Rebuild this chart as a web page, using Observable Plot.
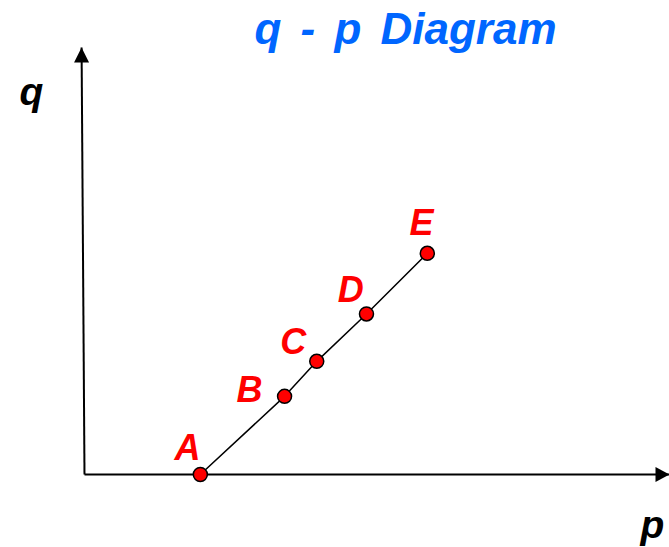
<!DOCTYPE html>
<html><head><meta charset="utf-8">
<script src="https://cdn.jsdelivr.net/npm/d3@7"></script>
<script src="https://cdn.jsdelivr.net/npm/@observablehq/plot@0.6"></script>
<style>
html,body{margin:0;padding:0;background:#fff;}
</style></head><body><div id="chart"></div>
<script>
// Data
const pointNames = ["A", "B", "C", "D", "E"];
const pValues = [1.98, 3.42, 3.97, 4.82, 5.86];
const qValues = [0, 1.83, 2.65, 3.76, 5.18];
const labelP = [1.76, 2.82, 3.57, 4.55, 5.76];
const labelQ = [0.33, 1.69, 2.83, 4.03, 5.60];
const pDomain = [0, 10];
const qDomain = [0, 10];
const yAxisTopP = -0.05;
const titleText = "q - p Diagram";
const xLabel = "p";
const yLabel = "q";

const FONT = "Liberation Sans, Arial, Helvetica, sans-serif";
const points = pointNames.map((n, i) => ({name: n, p: pValues[i], q: qValues[i], lp: labelP[i], lq: labelQ[i]}));
const axes = [
  {x1: pDomain[0], y1: qDomain[0], x2: pDomain[1], y2: qDomain[0]},
  {x1: pDomain[0], y1: qDomain[0], x2: yAxisTopP, y2: qDomain[1]}
];
const arrowUp = {draw(ctx) { ctx.moveTo(0, 0); ctx.lineTo(-7.5, 15); ctx.lineTo(7.5, 15); ctx.closePath(); }};
const arrowRight = {draw(ctx) { ctx.moveTo(0, 0); ctx.lineTo(-14, -7.5); ctx.lineTo(-14, 7.5); ctx.closePath(); }};

const chart = Plot.plot({
  width: 669,
  height: 547,
  marginLeft: 84,
  marginRight: 0,
  marginTop: 47,
  marginBottom: 73,
  x: {domain: pDomain, axis: null},
  y: {domain: qDomain, axis: null},
  style: {background: "#fff"},
  marks: [
    Plot.link(axes, {x1: "x1", y1: "y1", x2: "x2", y2: "y2", stroke: "#000", strokeWidth: 2}),
    Plot.dot([{x: yAxisTopP, y: qDomain[1]}], {x: "x", y: "y", symbol: arrowUp, r: 5, fill: "#000", stroke: "none"}),
    Plot.dot([{x: pDomain[1], y: qDomain[0]}], {x: "x", y: "y", symbol: arrowRight, r: 5, fill: "#000", stroke: "none"}),
    Plot.line(points, {x: "p", y: "q", stroke: "#000", strokeWidth: 1.5}),
    Plot.dot(points, {x: "p", y: "q", r: 7, fill: "#ff0000", stroke: "#000", strokeWidth: 1.5}),
    Plot.text(points, {x: "lp", y: "lq", text: "name", textAnchor: "middle", lineAnchor: "bottom",
      fill: "#ff0000", fontSize: 36, fontWeight: "bold", fontStyle: "italic", fontFamily: FONT}),
    Plot.text([yLabel], {frameAnchor: "top-left", dx: -53, dy: 57, textAnchor: "middle", lineAnchor: "bottom",
      fill: "#000", fontSize: 39, fontWeight: "bold", fontStyle: "italic", fontFamily: FONT}),
    Plot.text([xLabel], {frameAnchor: "bottom-right", dx: -17, dy: 63, textAnchor: "middle", lineAnchor: "bottom",
      fill: "#000", fontSize: 39, fontWeight: "bold", fontStyle: "italic", fontFamily: FONT}),
    Plot.text([titleText], {frameAnchor: "top-left", dx: 321, dy: -4, textAnchor: "middle", lineAnchor: "bottom",
      fill: "#0066ff", fontSize: 44, fontWeight: "bold", fontStyle: "italic", fontFamily: FONT})
  ]
});
// widen the gaps between the title's words, as in the reference
chart.querySelectorAll("text").forEach(t => {
  if (t.textContent === titleText) t.style.wordSpacing = "7px";
});
document.getElementById("chart").appendChild(chart);
</script></body></html>
